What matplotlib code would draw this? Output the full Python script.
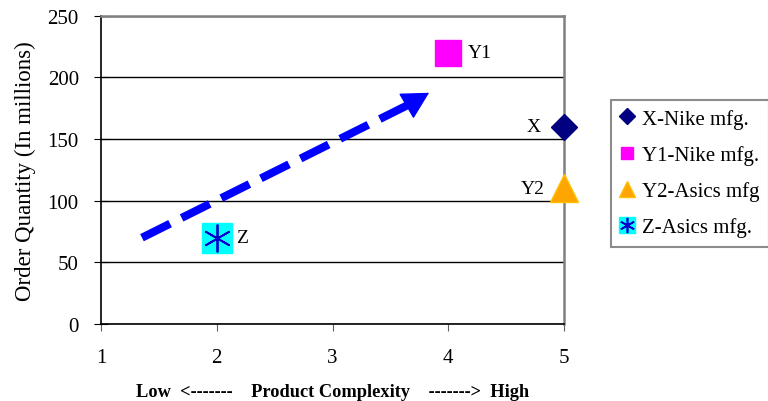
import matplotlib.pyplot as plt
from matplotlib.lines import Line2D
from matplotlib.legend_handler import HandlerTuple

plt.rcParams['font.family'] = ['Liberation Serif', 'DejaVu Serif']

# data
names = ['X-Nike mfg.', 'Y1-Nike mfg.', 'Y2-Asics mfg', 'Z-Asics mfg.']
tags = ['X', 'Y1', 'Y2', 'Z']
complexity = [5, 4, 5, 2]
quantity = [160, 220, 110, 70]
arrow_start = (1.354, 70)
arrow_base = (3.66, 178)
arrow_tip = (3.834, 187.5)

fig = plt.figure(figsize=(7.68, 4.02), dpi=100)
ax = fig.add_axes([0.1315, 0.1915, 0.603, 0.767])

ax.plot(complexity[0], quantity[0], 'D', color='#000080', ms=13, zorder=5, clip_on=False)
ax.plot(complexity[1], quantity[1], 's', color='#ff00ff', ms=18.5, zorder=5, clip_on=False)
ax.plot(complexity[2], quantity[2], '^', color='#ffa500', mec='#ffc000', ms=19.5, zorder=5, clip_on=False)
ax.plot(complexity[3], quantity[3], 's', color='#00ffff', ms=22, zorder=5)
ax.plot(complexity[3], quantity[3], marker=(6, 2, 0), color='#0000cc', ms=20, mew=1.3, ls='', zorder=6)

# point tags
ax.text(complexity[0] - 0.2, quantity[0], tags[0], ha='right', va='center', fontsize=14)
ax.text(complexity[1] + 0.17, quantity[1], tags[1], ha='left', va='center', fontsize=14)
ax.text(complexity[2] - 0.17, quantity[2], tags[2], ha='right', va='center', fontsize=14)
ax.text(complexity[3] + 0.17, quantity[3], tags[3], ha='left', va='center', fontsize=14)

# dashed trend arrow: shaft + solid head
ax.plot([arrow_start[0], arrow_base[0]], [arrow_start[1], arrow_base[1]],
        color='#0000ff', lw=5.8, ls=(0, (3.9, 1.6)), solid_capstyle='butt', zorder=4)
ax.annotate('', xy=arrow_tip, xytext=arrow_base,
            arrowprops=dict(arrowstyle='-|>,head_length=1.75,head_width=0.95', color='#0000ff',
                            lw=1, shrinkA=0, shrinkB=0), zorder=4)

ax.set_xlim(1, 5)
ax.set_ylim(0, 250)
ax.set_xticks([1, 2, 3, 4, 5])
ax.set_yticks(range(0, 251, 50))
ax.yaxis.grid(True, color='black', lw=1)
ax.set_axisbelow(True)
ax.tick_params(labelsize=15)
ax.tick_params(axis='y', direction='inout', length=10, pad=11)
ax.tick_params(axis='x', direction='out', length=5, color='#606060', pad=12)
for s in ['top', 'right']:
    ax.spines[s].set_color('#808080')
    ax.spines[s].set_linewidth(1.8)
ax.spines['left'].set_linewidth(1.2)
ax.spines['bottom'].set_linewidth(1.2)

ax.set_ylabel('Order Quantity (In millions)', fontsize=16.5, labelpad=8)
ax.set_xlabel('Low  <-------    Product Complexity    ------->  High',
              fontsize=13.2, fontweight='bold', labelpad=12)

handles = [
    Line2D([], [], ls='', marker='D', color='#000080', ms=8),
    Line2D([], [], ls='', marker='s', color='#ff00ff', ms=9),
    Line2D([], [], ls='', marker='^', color='#ffa500', mec='#ffc000', ms=11),
    (Line2D([], [], ls='', marker='s', color='#00ffff', ms=12),
     Line2D([], [], ls='', marker=(6, 2, 0), color='#0000cc', ms=11, mew=1.2)),
]
leg = fig.legend(handles, names, loc='upper left',
                 bbox_to_anchor=(0.795, 0.75), fontsize=15, frameon=True,
                 fancybox=False, edgecolor='#707070', handlelength=0.7,
                 handletextpad=0.35, borderpad=0.45, labelspacing=0.78,
                 borderaxespad=0,
                 handler_map={tuple: HandlerTuple(ndivide=1, pad=0)})
leg.get_frame().set_linewidth(1.5)

fig.savefig('out.png', dpi=100)
